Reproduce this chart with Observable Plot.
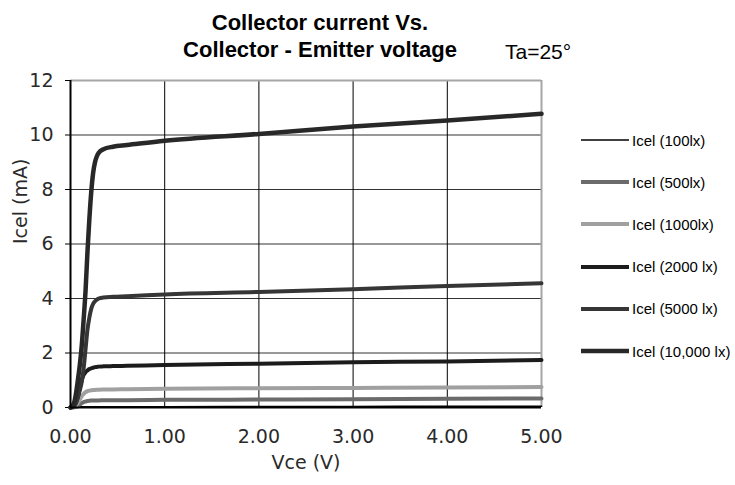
<!DOCTYPE html>
<html>
<head>
<meta charset="utf-8">
<script src="https://cdn.jsdelivr.net/npm/d3@7"></script>
<script src="https://cdn.jsdelivr.net/npm/@observablehq/plot@0.6"></script>
<style>
  html, body { margin: 0; padding: 0; background: #fff; }
  #wrap { position: relative; width: 735px; height: 485px; font-family: "Liberation Sans", Arial, sans-serif; }
  #title { position: absolute; left: 120px; width: 400px; top: 9px; text-align: center; font-weight: bold; font-size: 22px; line-height: 27px; color: #000; }
  #ta { position: absolute; left: 505px; top: 41px; font-size: 21px; line-height: 21px; color: #000; }
  .leg { position: absolute; left: 580px; height: 20px; display: flex; align-items: center; font-size: 15px; color: #000; }
  .leg svg { display: block; margin-right: 2px; }
  #chart { position: absolute; left: 0; top: 0; }
</style>
</head>
<body>
<div id="wrap">
  <div id="chart"></div>
  <div id="title">Collector current Vs.<br>Collector - Emitter voltage</div>
  <div id="ta">Ta=25°</div>
  <div id="legend"></div>
</div>
<script>
// Vce sample points (V)
const vce = [0, 0.02, 0.04, 0.06, 0.08, 0.10, 0.12, 0.14, 0.16, 0.18, 0.20, 0.22, 0.24, 0.26, 0.28, 0.30, 0.35, 0.45, 0.6, 1, 2, 3, 4, 5];

// Icel (mA) per illuminance
const icel100   = [0, 0.005, 0.01, 0.015, 0.02, 0.025, 0.03, 0.03, 0.03, 0.03, 0.03, 0.03, 0.03, 0.03, 0.03, 0.03, 0.03, 0.03, 0.03, 0.03, 0.035, 0.04, 0.045, 0.05];
const icel500   = [0, 0, 0.005, 0.02, 0.06, 0.11, 0.16, 0.2, 0.22, 0.24, 0.25, 0.255, 0.26, 0.26, 0.26, 0.26, 0.265, 0.27, 0.27, 0.28, 0.29, 0.30, 0.32, 0.33];
const icel1000  = [0, 0, 0.02, 0.08, 0.18, 0.3, 0.42, 0.5, 0.56, 0.6, 0.62, 0.63, 0.64, 0.645, 0.65, 0.655, 0.66, 0.665, 0.67, 0.69, 0.71, 0.72, 0.73, 0.75];
const icel2000  = [0, 0.02, 0.06, 0.18, 0.4, 0.72, 1.02, 1.2, 1.3, 1.36, 1.41, 1.44, 1.46, 1.48, 1.49, 1.5, 1.51, 1.52, 1.53, 1.56, 1.61, 1.66, 1.69, 1.74];
const icel5000  = [0, 0.02, 0.08, 0.2, 0.4, 0.65, 0.95, 1.45, 2.15, 2.85, 3.3, 3.62, 3.8, 3.9, 3.96, 4.0, 4.04, 4.06, 4.08, 4.15, 4.24, 4.34, 4.46, 4.56];
const icel10000 = [0, 0.05, 0.2, 0.55, 1.05, 1.6, 2.3, 3.25, 4.3, 5.7, 6.9, 7.9, 8.6, 9.0, 9.22, 9.35, 9.48, 9.57, 9.63, 9.79, 10.04, 10.31, 10.53, 10.78];

const seriesNames = ["Icel (100lx)", "Icel (500lx)", "Icel (1000lx)", "Icel (2000 lx)", "Icel (5000 lx)", "Icel (10,000 lx)"];
const seriesValues = [icel100, icel500, icel1000, icel2000, icel5000, icel10000];
const seriesColors = ["#000000", "#6b6b6b", "#a0a0a0", "#1c1c1c", "#363636", "#282828"];
const seriesWidths = [1.5, 4, 4, 4, 4, 4.5];

const xTicks = [0, 1, 2, 3, 4, 5];
const yTicks = [0, 2, 4, 6, 8, 10, 12];
const xLabel = "Vce (V)";
const yLabel = "Icel (mA)";

const lineMarks = seriesValues.map((vals, k) =>
  Plot.line(vce.map((v, i) => ({x: v, y: vals[i]})), {
    x: "x", y: "y", stroke: seriesColors[k], strokeWidth: seriesWidths[k], curve: "monotone-x", strokeLinejoin: "round"
  })
);

const chart = Plot.plot({
  width: 735,
  height: 485,
  marginLeft: 70,
  marginRight: 194,
  marginTop: 80,
  marginBottom: 78,
  style: {fontFamily: "DejaVu Sans, sans-serif", fontSize: "19px", color: "#2a2a2a", background: "transparent"},
  x: {domain: [0, 5]},
  y: {domain: [0, 12]},
  marks: [
    Plot.gridY({ticks: [2, 4, 6, 8, 10], stroke: "#333", strokeOpacity: 1, strokeWidth: 1}),
    Plot.gridX({ticks: [1, 2, 3, 4], stroke: "#000", strokeOpacity: 1, strokeWidth: 1}),
    Plot.ruleY([12], {stroke: "#a6a6a6", strokeWidth: 2}),
    Plot.ruleX([5], {stroke: "#a6a6a6", strokeWidth: 2}),
    Plot.axisX({ticks: xTicks, tickFormat: d3.format(".2f"), tickSize: 0, tickPadding: 22, fontSize: 19, label: null}),
    Plot.axisY({ticks: yTicks, tickSize: 5, tickPadding: 12, fontSize: 19, label: null, stroke: "#000"}),
    ...lineMarks,
    Plot.ruleX([0], {stroke: "#000", strokeWidth: 2}),
    Plot.ruleY([0], {stroke: "#000", strokeWidth: 2}),
    Plot.text([yLabel], {text: d => d, frameAnchor: "left", dx: -50, rotate: -90, fontSize: 19, fill: "#2a2a2a"}),
    Plot.text([xLabel], {text: d => d, frameAnchor: "bottom", dy: 61, fontSize: 19, fill: "#2a2a2a"})
  ]
});
document.getElementById("chart").appendChild(chart);

// legend
const legend = document.getElementById("legend");
seriesNames.forEach((name, k) => {
  const div = document.createElement("div");
  div.className = "leg";
  div.style.top = (130 + k * 42.2) + "px";
  div.innerHTML = `<svg width="50" height="20"><line x1="1" y1="10" x2="49" y2="10" stroke="${seriesColors[k]}" stroke-width="${seriesWidths[k]}"/></svg><span>${name}</span>`;
  legend.appendChild(div);
});
</script>
</body>
</html>
